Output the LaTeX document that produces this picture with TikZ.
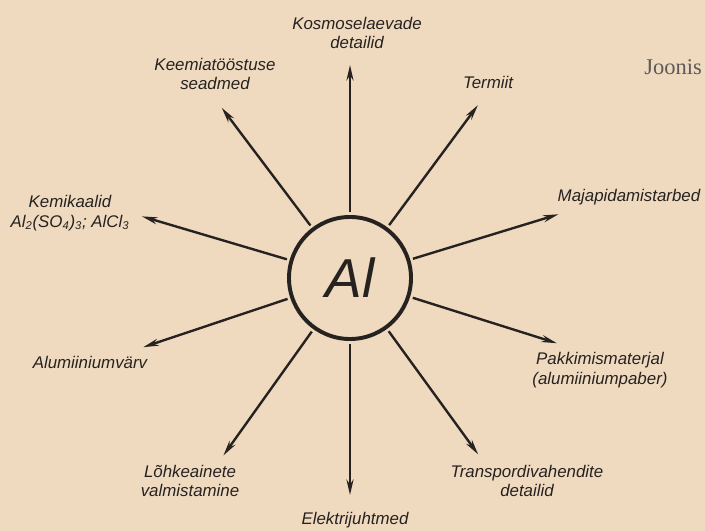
\documentclass[tikz,border=0pt]{standalone}
\usepackage{fontspec}
\setmainfont{Liberation Serif}
\setsansfont{Liberation Sans}
\usepackage{xcolor}
\usetikzlibrary{positioning, arrows.meta}
\definecolor{paper}{HTML}{EFDAC0}
\definecolor{ink}{HTML}{262220}

\begin{document}
\begin{tikzpicture}[
  x=0.025cm, y=0.025cm,
  font=\sffamily\itshape\fontsize{12}{14}\selectfont,
  >={Stealth[length=11pt, width=5pt]},
  arr/.style={->, line width=1.7pt, draw=ink, shorten <=2pt},
  hub/.style={circle, draw=ink, line width=2.8pt, minimum size=3.05cm,
              inner sep=0pt, text=ink},
  lbl/.style={align=center, text=ink, inner sep=1pt},
]

\fill[paper] (0,0) rectangle (705,-531);
\useasboundingbox (0,0) rectangle (705,-531);

%% ===== HUB =====

\node[hub, font=\sffamily\itshape\fontsize{39}{39}\selectfont] (al) at (350,-278) {Al};

%% ===== LABELS =====

\node[lbl] (kosmos) at (357,-33)  {Kosmoselaevade\\detailid};
\node[lbl] (keemia) at (215,-74)  {Keemiatööstuse\\seadmed};
\node[lbl] (termiit) at (488,-82) {Termiit};
\node[lbl] (majap) at (629,-197)  {Majapidamistarbed};
\node[lbl] (kemik) at (70,-213)
    {Kemikaalid\\Al\textsubscript{2}(SO\textsubscript{4})\textsubscript{3}; AlCl\textsubscript{3}};
\node[lbl] (alum) at (90,-362)    {Alumiiniumvärv};
\node[lbl] (pakk) at (600,-370)   {Pakkimismaterjal\\(alumiiniumpaber)};
\node[lbl] (lohk) at (190,-481)   {Lõhkeainete\\valmistamine};
\node[lbl] (elektr) at (355,-520) {Elektrijuhtmed};
\node[lbl] (transp) at (527,-481) {Transpordivahendite\\detailid};

\node[anchor=base west, inner sep=0pt, text=ink!75,
      font=\rmfamily\fontsize{16}{16}\selectfont] (joonis) at (644,-75) {Joonis};

%% ===== ARROW TIPS =====

\coordinate (kosmosTip)  at ([shift={(90:213)}]al.center);
\coordinate (keemiaTip)  at ([shift={(127:213)}]al.center);
\coordinate (termiitTip) at ([shift={(53.5:215)}]al.center);
\coordinate (majapTip)   at ([shift={(17:218)}]al.center);
\coordinate (kemikTip)   at ([shift={(163.5:217)}]al.center);
\coordinate (alumTip)    at ([shift={(198.5:218)}]al.center);
\coordinate (pakkTip)    at ([shift={(-17.5:217)}]al.center);
\coordinate (lohkTip)    at ([shift={(234.5:218)}]al.center);
\coordinate (elektrTip)  at ([shift={(270:217)}]al.center);
\coordinate (transpTip)  at ([shift={(-54:218)}]al.center);

%% ===== ARROWS =====

\draw[arr] (al) -- (kosmosTip);
\draw[arr] (al) -- (keemiaTip);
\draw[arr] (al) -- (termiitTip);
\draw[arr] (al) -- (majapTip);
\draw[arr] (al) -- (kemikTip);
\draw[arr] (al) -- (alumTip);
\draw[arr] (al) -- (pakkTip);
\draw[arr] (al) -- (lohkTip);
\draw[arr] (al) -- (elektrTip);
\draw[arr] (al) -- (transpTip);

\end{tikzpicture}
\end{document}
